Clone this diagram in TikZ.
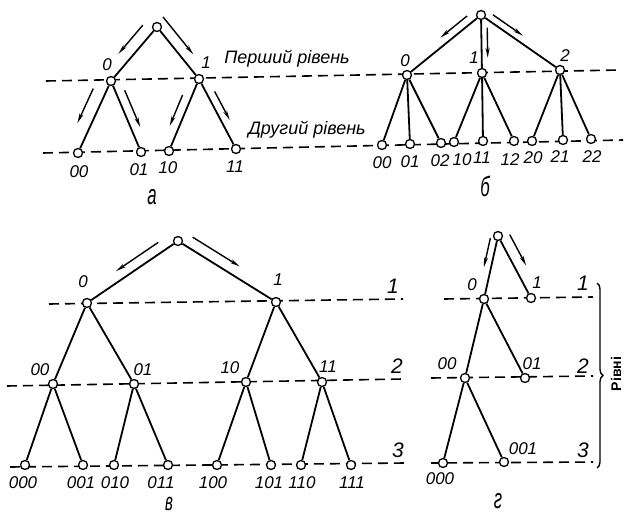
\documentclass[tikz,border=0pt]{standalone}
\usepackage{fontspec}
\setmainfont{Liberation Sans}
\usetikzlibrary{arrows.meta,calc,decorations.pathreplacing}
\newcommand\slim[1]{\scalebox{0.6}[1]{#1}}
\tikzset{
  vertex/.style    = {circle, draw, fill=white, line width=1.3pt, inner sep=0pt, minimum size=9pt},
  branch/.style    = {line width=1.8pt},
  levelline/.style = {line width=1.6pt, dash pattern=on 10pt off 6pt},
  walk/.style      = {line width=1.4pt, -{Stealth[length=10pt, width=4pt]}},
  code/.style      = {font=\fontsize{17}{17}\selectfont\itshape, inner sep=0pt},
  levelname/.style = {font=\fontsize{18}{18}\selectfont\itshape, inner sep=0pt},
  levelno/.style   = {font=\fontsize{21}{21}\selectfont\itshape, inner sep=0pt},
  panel/.style     = {font=\fontsize{28}{28}\selectfont\itshape, inner sep=0pt},
}

\begin{document}
\begin{tikzpicture}[x=1pt, y=-1pt]
  \useasboundingbox (0,0) rectangle (624,516);

  % level lines
  \coordinate (up1w) at (46,81);   \coordinate (up1e) at (620,70);
  \coordinate (up2w) at (43,153);  \coordinate (up2e) at (623,140);
  \coordinate (c1w) at (49,304);   \coordinate (c1e) at (403,299);
  \coordinate (c2w) at (7,386);    \coordinate (c2e) at (403,379);
  \coordinate (c3w) at (10,467);   \coordinate (c3e) at (405,463);
  \coordinate (d1w) at (444,299);  \coordinate (d1e) at (593,297);
  \coordinate (d2w) at (431,378);  \coordinate (d2e) at (593,376);
  \coordinate (d3w) at (431,463);  \coordinate (d3e) at (593,462);
  \foreach \w/\e in {up1w/up1e, up2w/up2e, c1w/c1e, c2w/c2e, c3w/c3e, d1w/d1e, d2w/d2e, d3w/d3e}
    \draw[levelline] (\w) -- (\e);

  % panel a: binary tree, two levels
  \node[vertex] (ra)  at (157,27)  {};
  \node[vertex] (a0)  at (111,81)  {};
  \node[vertex] (a1)  at (199,79)  {};
  \node[vertex] (a00) at (78,153)  {};
  \node[vertex] (a01) at (141,152) {};
  \node[vertex] (a10) at (169,151) {};
  \node[vertex] (a11) at (236,149) {};
  \foreach \p/\c in {ra/a0, ra/a1, a0/a00, a0/a01, a1/a10, a1/a11}
    \draw[branch] (\p) -- (\c);

  \draw[walk] ($(ra)!.11!(a0)!12pt!-90:(a0)$) -- ($(ra)!.64!(a0)!12pt!-90:(a0)$);
  \draw[walk] ($(ra)!-.06!(a1)!11pt!90:(a1)$) -- ($(ra)!.66!(a1)!11pt!90:(a1)$);
  \draw[walk] ($(a0)!.18!(a00)!13pt!-90:(a00)$) -- ($(a0)!.66!(a00)!13pt!-90:(a00)$);
  \draw[walk] ($(a0)!.18!(a01)!9pt!90:(a01)$) -- ($(a0)!.70!(a01)!9pt!90:(a01)$);
  \draw[walk] ($(a1)!.27!(a10)!9pt!-90:(a10)$) -- ($(a1)!.70!(a10)!9pt!-90:(a10)$);
  \draw[walk] ($(a1)!.23!(a11)!8pt!90:(a11)$) -- ($(a1)!.64!(a11)!8pt!90:(a11)$);

  \node[code] (la0)  at (107,65)  {0};
  \node[code] (la1)  at (206,63)  {1};
  \node[code] (la00) at (79,172)  {00};
  \node[code] (la01) at (139,170) {01};
  \node[code] (la10) at (168,168) {10};
  \node[code] (la11) at (235,167) {11};
  \node[levelname] (lvl1) at (287,59)  {Перший рівень};
  \node[levelname] (lvl2) at (307,130) {Другий рівень};
  \node[panel] (pa) at (152,197) {\slim{а}};

  % panel b: ternary tree, two levels
  \node[vertex] (rb) at (481,15) {};
  \node[vertex] (b0) at (407,75) {};
  \node[vertex] (b1) at (482,73) {};
  \node[vertex] (b2) at (560,70) {};
  \foreach \n/\x/\y in {b00/382/145, b01/410/144, b02/441/143, b10/454/142, b11/483/141,
                        b12/514/141, b20/532/141, b21/563/140, b22/591/139}
    \node[vertex] (\n) at (\x,\y) {};
  \foreach \p/\c in {rb/b0, rb/b1, rb/b2, b0/b00, b0/b01, b0/b02, b1/b10, b1/b11, b1/b12,
                     b2/b20, b2/b21, b2/b22}
    \draw[branch] (\p) -- (\c);

  \draw[walk] ($(rb)!.12!(b0)!8pt!-90:(b0)$) -- ($(rb)!.48!(b0)!8pt!-90:(b0)$);
  \draw[walk] ($(rb)!.22!(b1)!6pt!90:(b1)$) -- ($(rb)!.74!(b1)!6pt!90:(b1)$);
  \draw[walk] ($(rb)!.10!(b2)!7pt!90:(b2)$) -- ($(rb)!.48!(b2)!7pt!90:(b2)$);

  \node[code] (lb0) at (405,61) {0};
  \node[code] (lb1) at (474,58) {1};
  \node[code] (lb2) at (565,56) {2};
  \foreach \t/\x/\y in {00/382/163, 01/410/162, 02/440/161, 10/462/160, 11/482/158,
                        12/510/160, 20/533/158, 21/560/157, 22/592/157}
    \node[code] (lb\t) at (\x,\y) {\t};
  \node[panel] (pb) at (485,186) {\slim{б}};

  % panel v: binary tree, three levels
  \node[vertex] (rc)  at (178,241) {};
  \node[vertex] (c0)  at (87,303)  {};
  \node[vertex] (c1)  at (276,302) {};
  \node[vertex] (c00) at (53,384)  {};
  \node[vertex] (c01) at (134,384) {};
  \node[vertex] (c10) at (246,382) {};
  \node[vertex] (c11) at (322,382) {};
  \foreach \n/\x in {000/25, 001/83, 010/114, 011/168, 100/217, 101/271, 110/301, 111/351}
    \node[vertex] (c\n) at (\x,465) {};
  \foreach \p/\c in {rc/c0, rc/c1, c0/c00, c0/c01, c1/c10, c1/c11, c00/c000, c00/c001,
                     c01/c010, c01/c011, c10/c100, c10/c101, c11/c110, c11/c111}
    \draw[branch] (\p) -- (\c);

  \draw[walk] ($(rc)!.155!(c0)!10pt!-90:(c0)$) -- ($(rc)!.62!(c0)!10pt!-90:(c0)$);
  \draw[walk] ($(rc)!.09!(c1)!11pt!90:(c1)$) -- ($(rc)!.57!(c1)!11pt!90:(c1)$);

  \node[code] (lc0)  at (83,282)  {0};
  \node[code] (lc1)  at (278,280) {1};
  \node[code] (lc00) at (40,370)  {00};
  \node[code] (lc01) at (143,370) {01};
  \node[code] (lc10) at (230,368) {10};
  \node[code] (lc11) at (328,367) {11};
  \foreach \t/\x in {000/23, 001/81, 010/115, 011/161, 100/213, 101/269, 110/302, 111/352}
    \node[code] (lc\t) at (\x,483) {\t};
  \node[levelno] (nc1) at (393,286) {1};
  \node[levelno] (nc2) at (397,366) {2};
  \node[levelno] (nc3) at (398,450) {3};
  \node[panel, font=\fontsize{25}{25}\selectfont\itshape] (pc) at (169,504) {\slim{в}};

  % panel g: unbalanced binary tree
  \node[vertex] (rd)   at (498,236) {};
  \node[vertex] (d0)   at (484,299) {};
  \node[vertex] (d1)   at (531,298) {};
  \node[vertex] (d00)  at (465,378) {};
  \node[vertex] (d01)  at (525,378) {};
  \node[vertex] (d000) at (443,463) {};
  \node[vertex] (d001) at (504,462) {};
  \foreach \p/\c in {rd/d0, rd/d1, d0/d00, d0/d01, d00/d000, d00/d001}
    \draw[branch] (\p) -- (\c);

  \draw[walk] ($(rd)!.06!(d0)!7pt!-90:(d0)$) -- ($(rd)!.52!(d0)!7pt!-90:(d0)$);
  \draw[walk] ($(rd)!.06!(d1)!11pt!90:(d1)$) -- ($(rd)!.56!(d1)!11pt!90:(d1)$);

  \node[code] (ld0)   at (472,285) {0};
  \node[code] (ld1)   at (537,283) {1};
  \node[code] (ld00)  at (447,364) {00};
  \node[code] (ld01)  at (532,364) {01};
  \node[code] (ld001) at (523,449) {001};
  \node[code] (ld000) at (440,479) {000};
  \node[levelno] (nd1) at (583,283) {1};
  \node[levelno] (nd2) at (583,366) {2};
  \node[levelno] (nd3) at (583,450) {3};

  \coordinate (brtop) at (597,283);
  \coordinate (brbot) at (597,468);
  \draw[line width=1.4pt, decorate, decoration={brace, amplitude=6pt}] (brtop) -- (brbot);
  \node[code, font=\fontsize{14}{14}\selectfont\bfseries, rotate=90] (rivni) at (616,374) {Рівні};
  \node[panel] (pd) at (498,501) {\slim{г}};
\end{tikzpicture}
\end{document}
